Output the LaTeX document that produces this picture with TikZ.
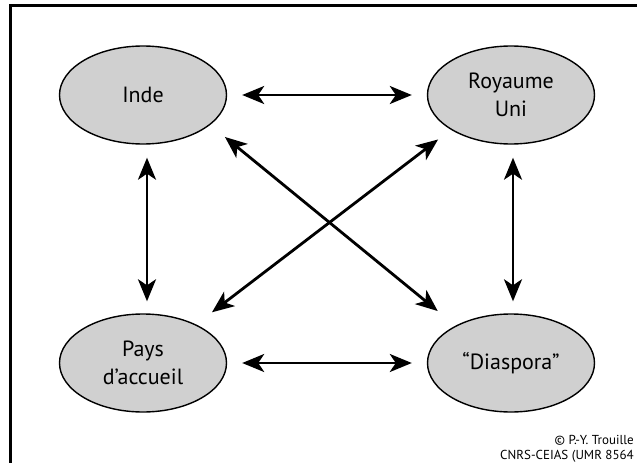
\documentclass[tikz,border=0pt]{standalone}
\usepackage{fontspec}
\setmainfont{PT Sans}
\usetikzlibrary{shapes.geometric, positioning, arrows.meta}
\definecolor{ovalgray}{RGB}{208,208,208}
\tikzstyle{pole} = [ellipse,draw,line width=1.4pt,fill=ovalgray,minimum width=167pt,minimum height=98pt,inner sep=0pt,align=center,font=\fontsize{22}{28}\selectfont]
\tikzstyle{link} = [line width=2.8pt,{Stealth[length=22pt,width=18pt,inset=6pt]}-{Stealth[length=22pt,width=18pt,inset=6pt]}]
\tikzstyle{credit} = [anchor=base east,inner sep=0pt,font=\fontsize{13}{15}\selectfont]

\begin{document}
\begin{tikzpicture}[node distance=2cm,on grid]
   	\useasboundingbox (0,0) rectangle (637pt,-463pt);
   	\begin{scope}
   	\clip (0,0) rectangle (637pt,-463pt);
   	\draw[line width=3pt] (10.5pt,-5.5pt) rectangle (680pt,-500pt);
   	\end{scope}
   	\node[pole](inde) at (143pt,-95pt) {Inde};
   	\node[pole](royaume)[right=368pt of inde] {Royaume\\Uni};
   	\node[pole](pays)[below=268pt of inde] {Pays\\d’accueil};
   	\node[pole](diaspora)[right=368pt of pays] {“Diaspora”};
   	\node[credit](copy) at (634pt,-444pt) {© P.-Y. Trouille};
   	\node[credit](labo) at (634pt,-459pt) {CNRS-CEIAS (UMR 8564};
    \path[link] 
    (inde.east) edge[shorten <=15pt,shorten >=15pt] (royaume.west)
    (pays.east) edge[shorten <=15pt,shorten >=15pt] (diaspora.west)
    ([xshift=4pt]inde.south) edge[shorten <=13pt,shorten >=12pt] ([xshift=4pt]pays.north)
    ([xshift=2pt]royaume.south) edge[shorten <=13pt,shorten >=12pt] ([xshift=2pt]diaspora.north)
    (inde.-24) edge[shorten <=19pt,shorten >=23pt] (diaspora.146)
    (royaume.-150) edge[shorten <=16pt,shorten >=20pt] (pays.36);
\end{tikzpicture}
\end{document}
